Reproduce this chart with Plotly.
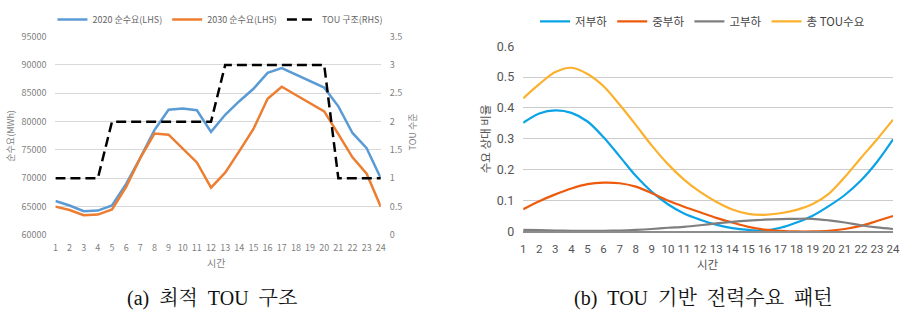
import plotly.graph_objects as go

hours = [str(h) for h in range(1, 25)]

# (a) 최적 TOU 구조
demand_2020 = [66000, 65200, 64200, 64300, 65200, 69000, 73600, 78500, 82100, 82300, 82000, 78200,
               81200, 83600, 85800, 88600, 89450, 88300, 87200, 86000, 82700, 78000, 75300, 70000]
demand_2030 = [65000, 64400, 63500, 63600, 64500, 68500, 73600, 77900, 77700, 75200, 72800, 68350,
               71000, 74800, 78700, 84050, 86150, 84700, 83300, 81800, 77800, 73700, 70800, 65000]
tou_level = [1, 1, 1, 1, 2, 2, 2, 2, 2, 2, 2, 2, 3, 3, 3, 3, 3, 3, 3, 3, 1, 1, 1, 1]

# (b) TOU 기반 전력수요 패턴
low_load = [0.352, 0.382, 0.392, 0.384, 0.356, 0.305, 0.243, 0.180, 0.128, 0.088, 0.058, 0.038,
            0.022, 0.011, 0.005, 0.003, 0.012, 0.029, 0.051, 0.082, 0.118, 0.165, 0.225, 0.298]
mid_load = [0.072, 0.098, 0.12, 0.139, 0.153, 0.158, 0.156, 0.145, 0.124, 0.1, 0.08, 0.062,
            0.044, 0.029, 0.015, 0.006, 0.002, 0.0, 0.0, 0.002, 0.008, 0.018, 0.034, 0.05]
high_load = [0.005, 0.004, 0.003, 0.002, 0.002, 0.002, 0.003, 0.005, 0.008, 0.012, 0.015, 0.02,
             0.026, 0.031, 0.035, 0.038, 0.04, 0.041, 0.041, 0.036, 0.029, 0.02, 0.013, 0.008]
total_tou = [0.431, 0.477, 0.516, 0.53, 0.51, 0.47, 0.41, 0.345, 0.278, 0.218, 0.168, 0.128,
             0.096, 0.071, 0.057, 0.054, 0.059, 0.07, 0.089, 0.122, 0.176, 0.238, 0.298, 0.362]

W, H = 905, 324
def px(x):
    return x / W
def py(y):
    return (H - y) / H

KR = "Noto Sans CJK KR, Noto Sans, sans-serif"
grey_txt = "#7f7f7f"

fig = go.Figure()

# ---- left chart ----
fig.add_trace(go.Scatter(x=hours, y=demand_2020, name="2020 순수요(LHS)", mode="lines",
                         line=dict(color="#5B9BD5", width=2.5), xaxis="x", yaxis="y", legend="legend"))
fig.add_trace(go.Scatter(x=hours, y=demand_2030, name="2030 순수요(LHS)", mode="lines",
                         line=dict(color="#ED7D31", width=2.5), xaxis="x", yaxis="y", legend="legend"))
fig.add_trace(go.Scatter(x=hours, y=tou_level, name="TOU 구조(RHS)", mode="lines",
                         line=dict(color="#000000", width=2.5, dash="10px,5px"), xaxis="x", yaxis="y2",
                         legend="legend"))

# ---- right chart ----
spl = dict(shape="spline", smoothing=0.9)
fig.add_trace(go.Scatter(x=hours, y=low_load, name="저부하", mode="lines",
                         line=dict(color="#0BA3E6", width=2.2, **spl), xaxis="x2", yaxis="y3", legend="legend2"))
fig.add_trace(go.Scatter(x=hours, y=mid_load, name="중부하", mode="lines",
                         line=dict(color="#EE5A0C", width=2.2, **spl), xaxis="x2", yaxis="y3", legend="legend2"))
fig.add_trace(go.Scatter(x=hours, y=high_load, name="고부하", mode="lines",
                         line=dict(color="#7F7F7F", width=2.2, **spl), xaxis="x2", yaxis="y3", legend="legend2"))
fig.add_trace(go.Scatter(x=hours, y=total_tou, name="총 TOU수요", mode="lines",
                         line=dict(color="#FBB12E", width=2.2, **spl), xaxis="x2", yaxis="y3", legend="legend2"))

left_dom = [px(53), px(382)]
left_ydom = [py(238), py(30)]
right_dom = [px(526), px(900)]
right_ydom = [py(234.3), py(40)]

small = dict(family=KR, size=9, color=grey_txt)
mid = dict(family="Roboto, " + KR, size=12.5, color="#555555")
midx = dict(family="Roboto, " + KR, size=11.5, color="#555555")

fig.update_layout(
    width=W, height=H,
    margin=dict(l=0, r=0, t=0, b=0),
    paper_bgcolor="white", plot_bgcolor="white",
    xaxis=dict(domain=left_dom, anchor="y", type="category", showgrid=False, showline=False,
               ticks="", tickfont=small, ticklabelstandoff=6, tickangle=0),
    yaxis=dict(domain=left_ydom, anchor="x", range=[60000, 95000], dtick=5000, tick0=60000,
               tickformat="d",
               showgrid=True, gridcolor="#d9d9d9", gridwidth=1, zeroline=False, showline=False,
               ticks="", tickfont=small, ticklabelstandoff=8),
    yaxis2=dict(overlaying="y", anchor="x", side="right", range=[0, 3.5], dtick=0.5, tick0=0,
                showgrid=False, zeroline=False, showline=False, ticks="", tickfont=small,
                ticklabelstandoff=8),
    xaxis2=dict(domain=right_dom, anchor="y3", type="category", showgrid=False, showline=True,
                linecolor="#8c8c8c", linewidth=1.5, ticks="", tickfont=midx, ticklabelstandoff=6,
                tickangle=0),
    yaxis3=dict(domain=right_ydom, anchor="x2", range=[0, 0.6], dtick=0.1, tick0=0,
                showgrid=True, gridcolor="#cccccc", gridwidth=1, zeroline=False, showline=False,
                ticks="", tickfont=mid, ticklabelstandoff=8),
    legend=dict(orientation="h", x=px(50), xanchor="left", y=py(12), yanchor="middle",
                font=dict(family=KR, size=9, color="#666666"), bgcolor="rgba(0,0,0,0)",
                itemwidth=30, tracegroupgap=0),
    legend2=dict(orientation="h", x=px(538), xanchor="left", y=py(14), yanchor="middle",
                 font=dict(family=KR, size=11.5, color="#444444"), bgcolor="rgba(0,0,0,0)",
                 itemwidth=30),
    showlegend=True,
)

cap_font = dict(family="Liberation Serif, Noto Serif CJK KR, " + KR, size=20, color="#111111")
annos = [
    dict(text="순수요(MWh)", x=px(8), y=py(134), textangle=-90, font=small),
    dict(text="TOU 수준", x=px(415), y=py(130), textangle=-90, font=small),
    dict(text="시간", x=px(215), y=py(267), font=dict(family=KR, size=10, color=grey_txt)),
    dict(text="수요 상대 비율", x=px(487), y=py(137), textangle=-90,
         font=dict(family=KR, size=11.5, color="#555555")),
    dict(text="시간", x=px(713), y=py(268), font=dict(family=KR, size=11.5, color="#555555")),
    dict(text="(a)\u00a0\u00a0최적\u00a0\u00a0TOU\u00a0\u00a0구조", x=px(211), y=py(305), font=cap_font),
    dict(text="(b)\u00a0\u00a0TOU\u00a0\u00a0기반\u00a0\u00a0전력수요\u00a0\u00a0패턴", x=px(708), y=py(305),
         font=cap_font),
]
for a in annos:
    fig.add_annotation(xref="paper", yref="paper", showarrow=False, xanchor="center", yanchor="middle", **a)

fig.write_html("out.html")
